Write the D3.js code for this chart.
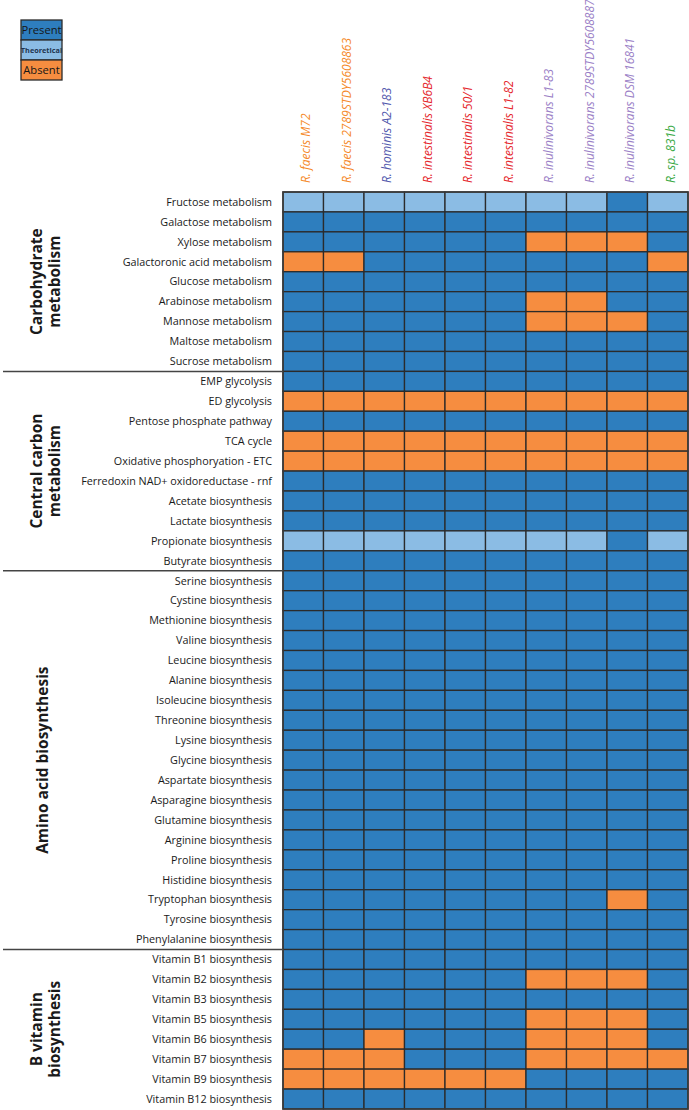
<!DOCTYPE html>
<html><head><meta charset="utf-8">
<script src="https://cdn.jsdelivr.net/npm/d3@7"></script>
<style>body{margin:0;background:#fff}svg{display:block}</style>
</head><body>
<svg id="c" width="689" height="1110"></svg>
<script>
// ---- data ----
const strains = ["R. faecis M72","R. faecis 2789STDY5608863","R. hominis A2-183","R. intestinalis XB6B4","R. intestinalis 50/1","R. intestinalis L1-82","R. inulinivorans L1-83","R. inulinivorans 2789STDY5608887","R. inulinivorans DSM 16841","R. sp. 831b"];
const strainSpecies = ["faecis","faecis","hominis","intestinalis","intestinalis","intestinalis","inulinivorans","inulinivorans","inulinivorans","sp"];
const groups = [["Carbohydrate","metabolism"],["Central carbon","metabolism"],["Amino acid biosynthesis"],["B vitamin","biosynthesis"]];
const carbRows = ["Fructose metabolism","Galactose metabolism","Xylose metabolism","Galactoronic acid metabolism","Glucose metabolism","Arabinose metabolism","Mannose metabolism","Maltose metabolism","Sucrose metabolism"];
const carbVals = ["TTTTTTTTPT","PPPPPPPPPP","PPPPPPAAAP","AAPPPPPPPA","PPPPPPPPPP","PPPPPPAAPP","PPPPPPAAAP","PPPPPPPPPP","PPPPPPPPPP"];
const centralRows = ["EMP glycolysis","ED glycolysis","Pentose phosphate pathway","TCA cycle","Oxidative phosphoryation - ETC","Ferredoxin NAD+ oxidoreductase - rnf","Acetate biosynthesis","Lactate biosynthesis","Propionate biosynthesis","Butyrate biosynthesis"];
const centralVals = ["PPPPPPPPPP","AAAAAAAAAA","PPPPPPPPPP","AAAAAAAAAA","AAAAAAAAAA","PPPPPPPPPP","PPPPPPPPPP","PPPPPPPPPP","TTTTTTTTPT","PPPPPPPPPP"];
const aminoRows = ["Serine biosynthesis","Cystine biosynthesis","Methionine biosynthesis","Valine biosynthesis","Leucine biosynthesis","Alanine biosynthesis","Isoleucine biosynthesis","Threonine biosynthesis","Lysine biosynthesis","Glycine biosynthesis","Aspartate biosynthesis","Asparagine biosynthesis","Glutamine biosynthesis","Arginine biosynthesis","Proline biosynthesis","Histidine biosynthesis","Tryptophan biosynthesis","Tyrosine biosynthesis","Phenylalanine biosynthesis"];
const aminoVals = ["PPPPPPPPPP","PPPPPPPPPP","PPPPPPPPPP","PPPPPPPPPP","PPPPPPPPPP","PPPPPPPPPP","PPPPPPPPPP","PPPPPPPPPP","PPPPPPPPPP","PPPPPPPPPP","PPPPPPPPPP","PPPPPPPPPP","PPPPPPPPPP","PPPPPPPPPP","PPPPPPPPPP","PPPPPPPPPP","PPPPPPPPAP","PPPPPPPPPP","PPPPPPPPPP"];
const vitRows = ["Vitamin B1 biosynthesis","Vitamin B2 biosynthesis","Vitamin B3 biosynthesis","Vitamin B5 biosynthesis","Vitamin B6 biosynthesis","Vitamin B7 biosynthesis","Vitamin B9 biosynthesis","Vitamin B12 biosynthesis"];
const vitVals = ["PPPPPPPPPP","PPPPPPAAAP","PPPPPPPPPP","PPPPPPAAAP","PPAPPPAAAP","AAAPPPAAAA","AAAAAAPPPP","PPPPPPPPPP"];
const legendKeys = ["P","T","A"];
const legendLabels = ["Present","Theoretical","Absent"];

// ---- build ----
const rowGroups = [carbRows, centralRows, aminoRows, vitRows];
const valGroups = [carbVals, centralVals, aminoVals, vitVals];
const rows = [], cells = [];
rowGroups.forEach((rg, gi) => rg.forEach((r, ri) => {
  rows.push({name: r, group: gi});
  valGroups[gi][ri].split("").forEach((v, ci) => cells.push({row: r, col: strains[ci], v}));
}));

const colorMap = {P: "#2e7ebe", T: "#8bbce4", A: "#f68d40"};
const speciesColor = {faecis: "#f58a2a", hominis: "#5258ad", intestinalis: "#e5262c", inulinivorans: "#9a80c6", sp: "#3aa944"};

const svg = d3.select("#c");
const gL = 283, gR = 688, gT = 192, gB = 1109;
const x = d3.scaleBand().domain(strains).range([gL, gR]);
const y = d3.scaleBand().domain(rows.map(r => r.name)).range([gT, gB]);
const font = "'Open Sans', 'Noto Sans', sans-serif";

// cells
svg.append("g").selectAll("rect").data(cells).join("rect")
  .attr("x", d => x(d.col)).attr("y", d => y(d.row))
  .attr("width", x.bandwidth()).attr("height", y.bandwidth())
  .attr("fill", d => colorMap[d.v]).attr("stroke", "#2b2b2b").attr("stroke-width", 1.3);
svg.append("rect").attr("x", gL).attr("y", gT).attr("width", gR - gL).attr("height", gB - gT)
  .attr("fill", "none").attr("stroke", "#3a3a3a").attr("stroke-width", 1.6);

// row labels
svg.append("g").selectAll("text").data(rows).join("text")
  .attr("x", 272).attr("y", d => y(d.name) + y.bandwidth() / 2).attr("dy", "0.35em")
  .attr("text-anchor", "end").attr("font-family", font).attr("font-size", 10.8).attr("fill", "#1a1a1a")
  .text(d => d.name);

// column labels
svg.append("g").selectAll("text").data(strains).join("text")
  .attr("transform", d => `translate(${x(d) + x.bandwidth() / 2 + 3},183) rotate(-90)`)
  .attr("dy", "0.35em").attr("text-anchor", "start")
  .attr("font-family", font).attr("font-style", "italic").attr("font-size", 12)
  .attr("fill", (d, i) => speciesColor[strainSpecies[i]])
  .text(d => d);

// group separators & labels
rowGroups.forEach((rg, gi) => {
  const y0 = y(rg[0]), y1 = y(rg[rg.length - 1]) + y.bandwidth();
  if (gi > 0) svg.append("line").attr("x1", 3).attr("x2", gL).attr("y1", y0).attr("y2", y0)
    .attr("stroke", "#444").attr("stroke-width", 1.5);
  const lines = groups[gi];
  const cy = (y0 + y1) / 2;
  const g = svg.append("text").attr("transform", `translate(${lines.length > 1 ? 46 : 43},${cy}) rotate(-90)`)
    .attr("text-anchor", "middle").attr("font-family", font).attr("font-weight", "bold")
    .attr("font-size", 15.5).attr("fill", "#1a1a1a");
  lines.forEach((l, li) => g.append("tspan").attr("x", 0)
    .attr("y", (li - (lines.length - 1) / 2) * 18).attr("dy", "0.35em").text(l));
});

// legend
const ly = d3.scaleBand().domain(legendKeys).range([20, 80]);
const lg = svg.append("g");
lg.selectAll("rect").data(legendKeys).join("rect")
  .attr("x", 21).attr("y", d => ly(d)).attr("width", 41).attr("height", ly.bandwidth())
  .attr("fill", d => colorMap[d]).attr("stroke", "#2b2b2b").attr("stroke-width", 1.3);
lg.selectAll("text").data(legendKeys).join("text")
  .attr("x", 41.5).attr("y", d => ly(d) + ly.bandwidth() / 2).attr("dy", "0.35em")
  .attr("text-anchor", "middle").attr("font-family", font)
  .attr("font-size", (d, i) => i === 1 ? 7.3 : 11.2).attr("font-weight", (d, i) => i === 1 ? "bold" : "normal")
  .attr("fill", (d, i) => i === 1 ? "#1f3550" : "#161616")
  .text((d, i) => legendLabels[i]);
</script>
</body></html>
